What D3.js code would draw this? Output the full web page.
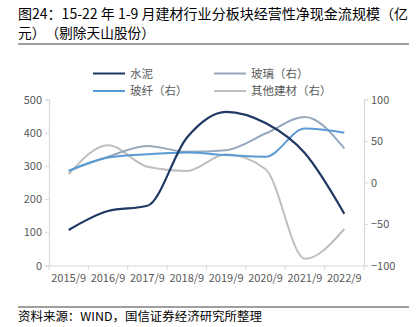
<!DOCTYPE html>
<html><head><meta charset="utf-8">
<script src="https://cdn.jsdelivr.net/npm/d3@7"></script>
<style>body{margin:0;background:#fff}svg{display:block}text{text-spacing-trim:space-all}</style>
</head><body>
<svg id="c" width="419" height="327"></svg>
<script>
const categories = ["2015/9","2016/9","2017/9","2018/9","2019/9","2020/9","2021/9","2022/9"];
const cement = [107,164,180,385,463,429,338,156];          // 水泥 (left)
const glass = [14,31,44,37,39,59,79,41];                   // 玻璃 (right)
const fiber = [14,30,34,36,33,31,65,60];                   // 玻纤 (right)
const other = [10,45,19,14,34,16,-92,-56];                 // 其他建材 (right)
const leftTicks = [0,100,200,300,400,500];
const rightTicks = [-100,-50,0,50,100];
const titleLines = ["图24：15-22 年 1-9 月建材行业分板块经营性净现金流规模（亿","元）（剔除天山股份）"];
const sourceText = "资料来源：WIND，国信证券经济研究所整理";

const svg = d3.select("#c");
const font = "'Noto Sans CJK SC','Noto Sans',sans-serif";
const x = d3.scaleBand().domain(categories).range([49,364]);
const yL = d3.scaleLinear().domain([0,500]).range([265.5,99.5]);
const yR = d3.scaleLinear().domain([-100,100]).range([265.5,99.5]);
const axisColor = "#d9d9d9", textColor = "#595959";

// title
const titleW = [390,137];
svg.selectAll("text.title").data(titleLines).enter().append("text")
  .attr("x",18).attr("y",(d,i)=>19+i*19).attr("font-family",font).attr("font-size",14)
  .attr("textLength",(d,i)=>titleW[i]).attr("lengthAdjust","spacingAndGlyphs")
  .attr("fill","#000").text(d=>d);
svg.append("line").attr("x1",18).attr("x2",409).attr("y1",44).attr("y2",44).attr("stroke","#404040").attr("stroke-width",1.2);
svg.append("line").attr("x1",18).attr("x2",409).attr("y1",307).attr("y2",307).attr("stroke","#404040").attr("stroke-width",1.2);
svg.append("text").attr("x",18).attr("y",321).attr("font-family",font).attr("font-size",12)
  .attr("textLength",244).attr("lengthAdjust","spacingAndGlyphs").attr("fill","#000").text(sourceText);

// axes
const gL = svg.append("g").attr("transform","translate(49,0)")
  .call(d3.axisLeft(yL).tickValues(leftTicks).tickSize(4).tickPadding(3));
const gR = svg.append("g").attr("transform","translate(364,0)")
  .call(d3.axisRight(yR).tickValues(rightTicks).tickFormat(d=>d<0?"\u2212"+Math.abs(d):d).tickSize(4).tickPadding(3));
const gX = svg.append("g").attr("transform","translate(0,265.5)")
  .call(d3.axisBottom(x).tickSize(0).tickPadding(9));
// category boundary ticks
const bounds = categories.map(c=>x(c)).concat([364]);
svg.selectAll("line.bt").data(bounds).enter().append("line")
  .attr("x1",d=>d).attr("x2",d=>d).attr("y1",265.5).attr("y2",270).attr("stroke",axisColor);
[gL,gR,gX].forEach(g=>{
  g.select(".domain").attr("stroke",axisColor).attr("stroke-width",1.2);
  g.selectAll(".tick line").attr("stroke",axisColor);
  g.selectAll("text").attr("font-family",font).attr("font-size",11).attr("fill",textColor);
});

// lines
const cx = c => x(c)+x.bandwidth()/2;
const curve = d3.curveMonotoneX;
const series = [
  {name:"其他建材（右）",vals:other,scale:yR,color:"#bfbfbf",w:2},
  {name:"玻璃（右）",vals:glass,scale:yR,color:"#97a9bd",w:2},
  {name:"玻纤（右）",vals:fiber,scale:yR,color:"#5b9bd5",w:2},
  {name:"水泥",vals:cement,scale:yL,color:"#1f3864",w:2.2}
];
series.forEach(s=>{
  const line = d3.line().x((d,i)=>cx(categories[i])).y(d=>s.scale(d)).curve(curve);
  svg.append("path").datum(s.vals).attr("d",line).attr("fill","none")
    .attr("stroke",s.color).attr("stroke-width",s.w);
});

// legend
const legend = [
  {name:"水泥",color:"#1f3864",x:93,y:73.5},
  {name:"玻璃（右）",color:"#97a9bd",x:214,y:73.5},
  {name:"玻纤（右）",color:"#5b9bd5",x:93,y:91},
  {name:"其他建材（右）",color:"#bfbfbf",x:214,y:91}
];
const lg = svg.selectAll("g.lg").data(legend).enter().append("g");
lg.append("line").attr("x1",d=>d.x).attr("x2",d=>d.x+32).attr("y1",d=>d.y).attr("y2",d=>d.y)
  .attr("stroke",d=>d.color).attr("stroke-width",2);
lg.append("text").attr("x",d=>d.x+37).attr("y",d=>d.y+4).attr("font-family",font).attr("font-size",11.5)
  .attr("fill",textColor).text(d=>d.name);
</script>
</body></html>
